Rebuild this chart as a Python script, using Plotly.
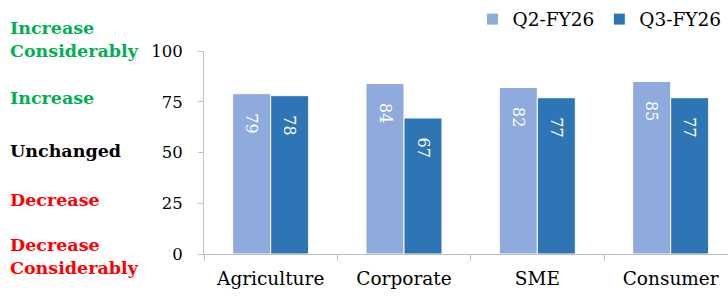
import plotly.graph_objects as go

categories = ["Agriculture", "Corporate", "SME", "Consumer"]
q2_fy26 = [79, 84, 82, 85]
q3_fy26 = [78, 67, 77, 77]
series_names = ["Q2-FY26", "Q3-FY26"]
y_ticks = [0, 25, 50, 75, 100]
scale_labels = ["Decrease<br>Considerably", "Decrease", "Unchanged", "Increase", "Increase<br>Considerably"]
scale_colors = ["#FF0000", "#FF0000", "#000000", "#00B050", "#00B050"]
scale_shift = [-2, 3, 2, 4, 12]

FONT = "DejaVu Serif"
colors = ["#8FAADC", "#2E75B6"]

fig = go.Figure()
for name, vals, c in zip(series_names, [q2_fy26, q3_fy26], colors):
    fig.add_trace(go.Bar(
        x=categories, y=vals, name=name,
        marker=dict(color=c, line=dict(color="white", width=1)),
        text=vals, texttemplate="\u00a0\u00a0\u2009\u2009%{text}",
        textposition="inside", insidetextanchor="end", textangle=90,
        textfont=dict(color="white", size=16, family=FONT),
        cliponaxis=False,
    ))

for v, lab, col, sh in zip(y_ticks, scale_labels, scale_colors, scale_shift):
    fig.add_annotation(
        xref="paper", yref="y", x=0, y=v, xanchor="left", yanchor="middle",
        xshift=-196, yshift=sh, text="<b>" + lab + "</b>", showarrow=False, align="left",
        font=dict(color=col, size=17.5, family=FONT),
    )

fig.update_layout(
    width=728, height=296,
    margin=dict(l=204, r=0, t=51, b=42),
    paper_bgcolor="white", plot_bgcolor="white",
    barmode="group", bargap=0.43, bargroupgap=0,
    font=dict(family=FONT, size=17, color="#000000"),
    showlegend=True,
    legend=dict(orientation="h", xref="container", yref="container",
                x=0.998, xanchor="right", y=0.998, yanchor="top",
                font=dict(size=18.5, family=FONT), itemwidth=30, tracegroupgap=0,
                bgcolor="rgba(0,0,0,0)"),
    xaxis=dict(range=[-0.5, 3.43], showline=True, linecolor="#BFBFBF", linewidth=1,
               ticks="outside", tickcolor="#BFBFBF", ticklen=6, tickson="boundaries",
               showgrid=False, tickfont=dict(size=18.5, family=FONT), automargin=False,
               ticklabelstandoff=8),
    yaxis=dict(range=[0, 100], tickvals=y_ticks, showline=True, linecolor="#BFBFBF", linewidth=1,
               ticks="outside", tickcolor="#BFBFBF", ticklen=5, showgrid=False, zeroline=False,
               tickfont=dict(size=16.5, family=FONT), ticklabelstandoff=12, automargin=False),
)

fig.write_html("out.html", config={"displayModeBar": False},
               post_script="document.body.style.margin='0';document.body.style.overflow='hidden';")
